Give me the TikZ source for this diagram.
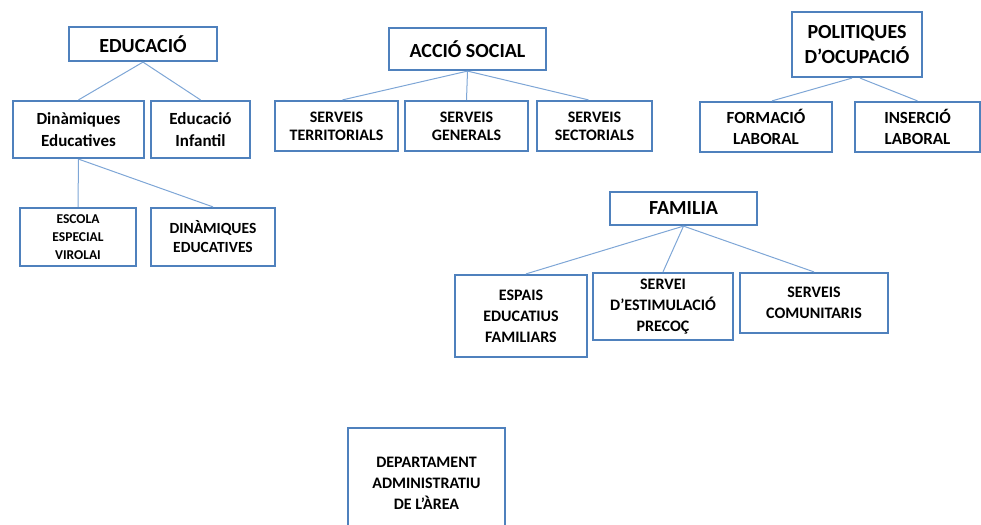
\documentclass[tikz,border=0pt]{standalone}
\usepackage{fontspec}
\setmainfont{Carlito}
\definecolor{vora}{HTML}{4F81BD}
\definecolor{linia}{HTML}{7EA6D6}
\tikzset{
  caixa/.style={draw=vora, line width=2.2pt, rectangle, align=center, inner sep=0pt, fill=white},
  uneix/.style={draw=linia, line width=1pt},
  lletra/.style n args={2}{font=\bfseries\fontsize{#1}{#2}\selectfont},
  titol/.style={lletra={20}{25}}
}
\begin{document}
\begin{tikzpicture}[x=1pt,y=-1pt]
\useasboundingbox (0,0) rectangle (981,524);

% Educacio
\node[caixa, titol, minimum width=148, minimum height=34] (educacio) at (143,44) {EDUCACIÓ};
\node[caixa, lletra={17}{22}, minimum width=131, minimum height=57] (dinamiques) at (78.5,129.5) {Dinàmiques\\Educatives};
\node[caixa, lletra={17}{22}, minimum width=99, minimum height=57] (infantil) at (200.5,129.5) {Educació\\Infantil};
\node[caixa, lletra={13.5}{18}, minimum width=116, minimum height=58] (escola) at (78,237) {ESCOLA\\ESPECIAL\\VIROLAI};
\node[caixa, lletra={15.5}{19}, minimum width=124, minimum height=58] (dinamiques2) at (213,237) {DINÀMIQUES\\EDUCATIVES};
\draw[uneix] (educacio.south) -- (dinamiques.north);
\draw[uneix] (educacio.south) -- (infantil.north);
\draw[uneix] (dinamiques.south) -- (escola.north);
\draw[uneix] (dinamiques.south) -- (dinamiques2.north);

% Accio social
\node[caixa, titol, minimum width=157, minimum height=42] (accio) at (467.5,49) {ACCIÓ SOCIAL};
\node[caixa, lletra={16}{18}, minimum width=123, minimum height=50] (territorials) at (336.5,126) {SERVEIS\\TERRITORIALS};
\node[caixa, lletra={16}{18}, minimum width=123, minimum height=50] (generals) at (466.5,126) {SERVEIS\\GENERALS};
\node[caixa, lletra={16}{18}, minimum width=115, minimum height=50] (sectorials) at (594.5,126) {SERVEIS\\SECTORIALS};
\draw[uneix] (accio.south) -- ([xshift=6pt]territorials.north);
\draw[uneix] (accio.south) -- (generals.north);
\draw[uneix] (accio.south) -- ([xshift=-6pt]sectorials.north);

% Politiques d'ocupacio
\node[caixa, titol, minimum width=130, minimum height=65] (politiques) at (857,44.5) {POLITIQUES\\D’OCUPACIÓ};
\node[caixa, lletra={17}{21}, minimum width=132, minimum height=50] (formacio) at (766,127) {FORMACIÓ\\LABORAL};
\node[caixa, lletra={17}{21}, minimum width=125, minimum height=50] (insercio) at (917.5,127) {INSERCIÓ\\LABORAL};
\draw[uneix] ([xshift=-5pt]politiques.south) -- ([xshift=6pt]formacio.north);
\draw[uneix] ([xshift=3pt]politiques.south) -- (insercio.north);

% Familia
\node[caixa, titol, minimum width=147, minimum height=33] (familia) at (683.5,208.5) {FAMILIA};
\node[caixa, lletra={16}{21}, minimum width=132, minimum height=82] (espais) at (521,316) {ESPAIS\\EDUCATIUS\\FAMILIARS};
\node[caixa, lletra={16}{21}, minimum width=140, minimum height=67] (estimulacio) at (663,306.5) {SERVEI\\D’ESTIMULACIÓ\\PRECOÇ};
\node[caixa, lletra={16}{21}, minimum width=148, minimum height=60] (comunitaris) at (814,303) {SERVEIS\\COMUNITARIS};
\draw[uneix] (familia.south) -- ([xshift=5pt]espais.north);
\draw[uneix] (familia.south) -- (estimulacio.north);
\draw[uneix] (familia.south) -- (comunitaris.north);

% Departament
\node[caixa, lletra={16}{21}, minimum width=157, minimum height=110] (departament) at (426.5,483) {DEPARTAMENT\\ADMINISTRATIU\\DE L’ÀREA};

\end{tikzpicture}
\end{document}
